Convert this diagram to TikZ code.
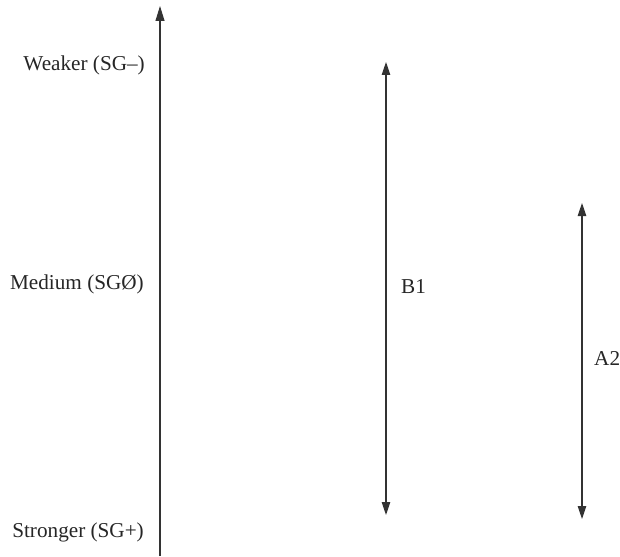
\documentclass[tikz,border=0pt]{standalone}
\usepackage{fontspec}
\setmainfont{Liberation Serif}
\usetikzlibrary{arrows.meta}
\begin{document}
\begin{tikzpicture}[x=1pt,y=-1pt,
  lbl/.style={font=\fontsize{21.2}{24}\selectfont, text=black!85, inner sep=0pt},
  axisline/.style={line width=1.1pt, draw=black!80, -{Triangle[length=15pt,width=9pt]}},
  rangeline/.style={line width=1.1pt, draw=black!80, {Triangle[length=13pt,width=8.5pt]}-{Triangle[length=13pt,width=8.5pt]}}]
\useasboundingbox (0,0) rectangle (620,556);
\coordinate (ax0) at (160,556);
\coordinate (ax1) at (160,6);
\draw[axisline] (ax0) -- (ax1);
\node[lbl, anchor=east] (weak) at (145,65) {Weaker (SG–)};
\node[lbl, anchor=east] (med) at (144,284) {Medium (SGØ)};
\node[lbl, anchor=east] (strong) at (144,532) {Stronger (SG+)};
\coordinate (b1t) at (386,62);
\coordinate (b1b) at (386,515);
\draw[rangeline] (b1t) -- (b1b);
\node[lbl, anchor=west] (b1) at (401,287) {B1};
\coordinate (a2t) at (582,203);
\coordinate (a2b) at (582,519);
\draw[rangeline] (a2t) -- (a2b);
\node[lbl, anchor=west] (a2) at (594,358) {A2};
\end{tikzpicture}
\end{document}
